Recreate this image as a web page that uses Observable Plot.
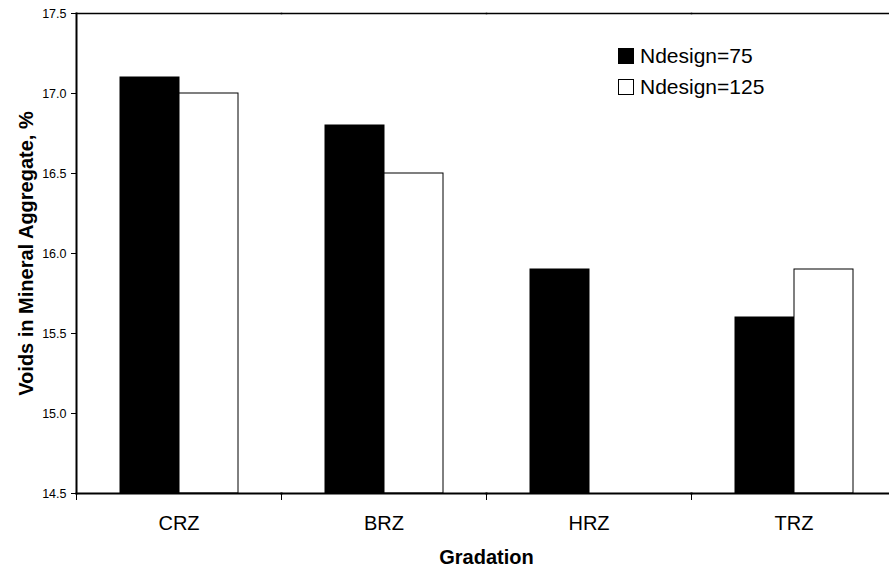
<!DOCTYPE html>
<html>
<head>
<meta charset="utf-8">
<script src="https://cdn.jsdelivr.net/npm/d3@7"></script>
<script src="https://cdn.jsdelivr.net/npm/@observablehq/plot@0.6"></script>
<style>
  html, body { margin: 0; padding: 0; background: #fff; }
  #wrap { position: relative; width: 889px; height: 571px; overflow: hidden; font-family: "Liberation Sans", Arial, sans-serif; }
  .legend { position: absolute; left: 618px; top: 40px; font-size: 21px; color: #000; }
  .legend .row { display: flex; align-items: center; height: 31px; }
  .legend .sw { width: 14px; height: 14px; border: 1px solid #000; margin-right: 6px; box-sizing: content-box; }
</style>
</head>
<body>
<div id="wrap"></div>
<script>
// ---- data ----
const categories = ["CRZ", "BRZ", "HRZ", "TRZ"];
const series = ["Ndesign=75", "Ndesign=125"];
const ndesign75 = [17.1, 16.8, 15.9, 15.6];
const ndesign125 = [17.0, 16.5, null, 15.9];
const yTicks = [14.5, 15.0, 15.5, 16.0, 16.5, 17.0, 17.5];
const seriesColors = ["#000000", "#ffffff"];
const yLabel = "Voids in Mineral Aggregate, %";
const xLabel = "Gradation";

const rows = [];
categories.forEach((c, i) => {
  [ndesign75, ndesign125].forEach((vals, s) => {
    if (vals[i] != null) rows.push({category: c, series: series[s], value: vals[i]});
  });
});
const yMin = yTicks[0], yMax = yTicks[yTicks.length - 1];

const W = 889, H = 571, mTop = 13, mBottom = 78, mLeft = 75;

const chart = Plot.plot({
  width: W,
  height: H,
  marginTop: mTop,
  marginBottom: mBottom,
  marginLeft: mLeft,
  marginRight: -8,
  style: {fontFamily: "Liberation Sans, Arial, sans-serif", fontSize: "12px", color: "#000", background: "#fff", overflow: "hidden"},
  fx: {domain: categories, paddingInner: 0, paddingOuter: 0, axis: null},
  x: {domain: series, paddingInner: 0, paddingOuter: 0.73, axis: null},
  y: {domain: [yMin, yMax], axis: null},
  color: {domain: series, range: seriesColors},
  marks: [
    Plot.barY(rows, {fx: "category", x: "series", y1: () => yMin, y2: "value", fill: "series", stroke: "#000", strokeWidth: 1}),
    Plot.frame({anchor: "top", stroke: "#000", strokeWidth: 1.5}),
    Plot.frame({anchor: "bottom", stroke: "#000", strokeWidth: 2}),
    Plot.frame({anchor: "left", stroke: "#000", strokeWidth: 2, facetAnchor: "left"}),
    Plot.frame({anchor: "left", stroke: "#000", strokeWidth: 1, insetTop: H - mTop - mBottom, insetBottom: -6}),
    Plot.axisY({ticks: yTicks, tickFormat: d3.format(".1f"), tickSize: 5, tickPadding: 5, fontSize: 12.5,
      label: yLabel, labelAnchor: "center", labelOffset: 58, labelArrow: "none"}),
    Plot.axisFx({anchor: "bottom", tickSize: 0, tickPadding: 22, fontSize: 20, label: xLabel, labelAnchor: "center", labelOffset: 70, labelArrow: "none"})
  ]
});

// bold, larger axis titles
d3.select(chart).selectAll('g[aria-label="y-axis label"], g[aria-label="fx-axis label"]')
  .attr("font-size", 20).attr("font-weight", "bold");

const wrap = document.getElementById("wrap");
wrap.appendChild(chart);

// legend
const legend = document.createElement("div");
legend.className = "legend";
series.forEach((s, i) => {
  const row = document.createElement("div");
  row.className = "row";
  const sw = document.createElement("span");
  sw.className = "sw";
  sw.style.background = seriesColors[i];
  const t = document.createElement("span");
  t.textContent = s;
  row.appendChild(sw);
  row.appendChild(t);
  legend.appendChild(row);
});
wrap.appendChild(legend);
</script>
</body>
</html>
